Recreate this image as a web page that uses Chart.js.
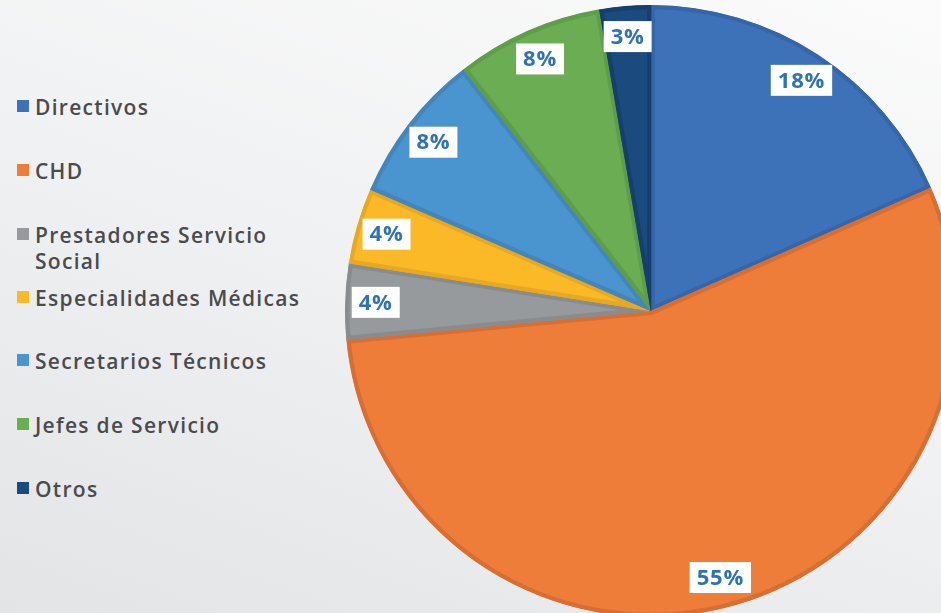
<!DOCTYPE html>
<html>
<head>
<meta charset="utf-8">
<script src="https://cdn.jsdelivr.net/npm/chart.js@4"></script>
<style>
  html, body { margin: 0; padding: 0; }
  body {
    width: 941px; height: 613px; overflow: hidden; position: relative;
    background: linear-gradient(200deg, #fbfbfb 0%, #f1f2f3 45%, #e3e4e6 100%);
    font-family: 'Open Sans', sans-serif;
  }
  #wrap { position: absolute; left: 345px; top: 5px; width: 612px; height: 612px; }
  .item { position: absolute; left: 17px; width: 320px; color: #4a4b4d;
    font-size: 21px; font-weight: 600; line-height: 26px; letter-spacing: 1.3px; }
  .item i { position: absolute; left: 0; top: 6px; width: 12px; height: 12px; }
  .item span { display: block; margin-left: 18px; max-width: 292px; }
</style>
</head>
<body>
<div id="legend"></div>
<div id="wrap"><canvas id="pie"></canvas></div>
<script>
const labels = ['Directivos', 'CHD', 'Prestadores Servicio Social', 'Especialidades Médicas',
  'Secretarios Técnicos', 'Jefes de Servicio', 'Otros']
const shares = [18.4, 55.1, 4.0, 4.0, 8.0, 7.8, 2.7]
const fills = ['#3d71b8', '#ed7d39', '#979a9c', '#fbb927', '#4a94cf', '#6aad53', '#1b4a7f']
const edges = ['#3466a9', '#d86e31', '#898c8e', '#e8a81f', '#4286bd', '#5e9e49', '#163f6d']

// legend rows (top of each row, px)
const legendTops = [94, 158, 222, 285, 348, 412, 476]
const legend = document.getElementById('legend')
labels.forEach((l, i) => {
  const d = document.createElement('div')
  d.className = 'item'
  d.style.top = legendTops[i] + 'px'
  d.innerHTML = `<i style="background:${fills[i]}"></i><span>${l}</span>`
  legend.appendChild(d)
})

const boxLabels = {
  id: 'boxLabels',
  afterDatasetsDraw(chart) {
    const ctx = chart.ctx
    const ds = chart.data.datasets[0]
    ctx.save()
    ctx.font = 'bold 22px "Open Sans"'
    ctx.letterSpacing = '0.8px'
    ctx.textAlign = 'center'
    ctx.textBaseline = 'middle'
    chart.getDatasetMeta(0).data.forEach((arc, i) => {
      const mid = (arc.startAngle + arc.endAngle) / 2
      const r = arc.outerRadius * 0.9
      const x = arc.x + Math.cos(mid) * r
      const y = arc.y + Math.sin(mid) * r
      const txt = Math.round(ds.data[i]) + '%'
      const w = ctx.measureText(txt).width + 14
      ctx.fillStyle = '#ffffff'
      ctx.fillRect(x - w / 2, y - 15.5, w, 31)
      ctx.fillStyle = '#2e74b5'
      ctx.fillText(txt, x, y + 1)
    })
    ctx.restore()
  }
}

new Chart(document.getElementById('pie'), {
  type: 'pie',
  data: {
    labels,
    datasets: [{
      data: shares,
      backgroundColor: fills,
      borderColor: edges,
      borderWidth: 4,
      borderAlign: 'inner',
    }],
  },
  options: {
    responsive: true,
    maintainAspectRatio: false,
    animation: false,
    plugins: { legend: { display: false }, tooltip: { enabled: false } },
  },
  plugins: [boxLabels],
})
</script>
</body>
</html>
